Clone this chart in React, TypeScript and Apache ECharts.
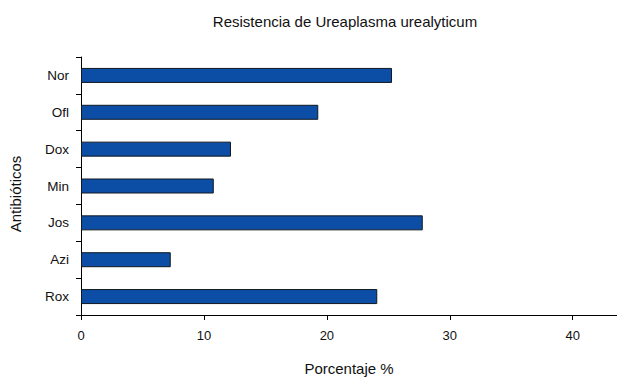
import React, { useEffect, useRef } from "react";
import * as echarts from "echarts";

const categories = ["Nor", "Ofl", "Dox", "Min", "Jos", "Azi", "Rox"];
const values = [25.3, 19.3, 12.2, 10.8, 27.8, 7.3, 24.1];
const xTicks = [0, 10, 20, 30, 40];

const FONT = "'Liberation Sans', Arial, sans-serif";

export default function App() {
  const ref = useRef<HTMLDivElement>(null);
  useEffect(() => {
    if (!ref.current) return;
    const chart = echarts.init(ref.current, null, { renderer: "svg" });
    chart.setOption({
      animation: false,
      backgroundColor: "#ffffff",
      title: {
        text: "Resistencia de Ureaplasma urealyticum",
        left: 340,
        top: 9,
        textAlign: "center",
        textStyle: { fontFamily: FONT, fontSize: 15, fontWeight: "normal", color: "#111" },
      },
      grid: { left: 79, right: 0, top: 57, bottom: 66, containLabel: false },
      xAxis: {
        type: "value",
        min: 0,
        max: 43.6,
        interval: 10,
        name: "Porcentaje %",
        nameLocation: "middle",
        nameGap: 46,
        nameTextStyle: { fontFamily: FONT, fontSize: 15, color: "#111" },
        axisLine: { show: true, lineStyle: { color: "#000", width: 1 } },
        axisTick: { show: true, length: 5, lineStyle: { color: "#000" } },
        splitLine: { show: false },
        axisLabel: {
          margin: 14,
          fontFamily: FONT,
          fontSize: 13,
          color: "#111",
          showMaxLabel: false,
          formatter: (v: number) => (xTicks.includes(v) ? String(v) : ""),
        },
      },
      yAxis: {
        type: "category",
        data: categories,
        inverse: true,
        name: "Antibióticos",
        nameLocation: "middle",
        nameGap: 58,
        nameTextStyle: { fontFamily: FONT, fontSize: 15, color: "#111", padding: [0, 16, 0, 0] },
        axisLine: { show: true, lineStyle: { color: "#000", width: 1 } },
        axisTick: { show: true, length: 5, inside: false, lineStyle: { color: "#000" } },
        axisLabel: { margin: 12, fontFamily: FONT, fontSize: 13.5, color: "#111" },
        splitLine: { show: false },
      },
      series: [
        {
          type: "bar",
          data: values,
          barWidth: 15,
          itemStyle: { color: "#0c4ea6", borderColor: "#101820", borderWidth: 1 },
        },
      ],
    });
    return () => chart.dispose();
  }, []);
  return (
    <div
      ref={ref}
      style={{ position: "fixed", left: 0, top: 0, width: 617, height: 381 }}
    />
  );
}
